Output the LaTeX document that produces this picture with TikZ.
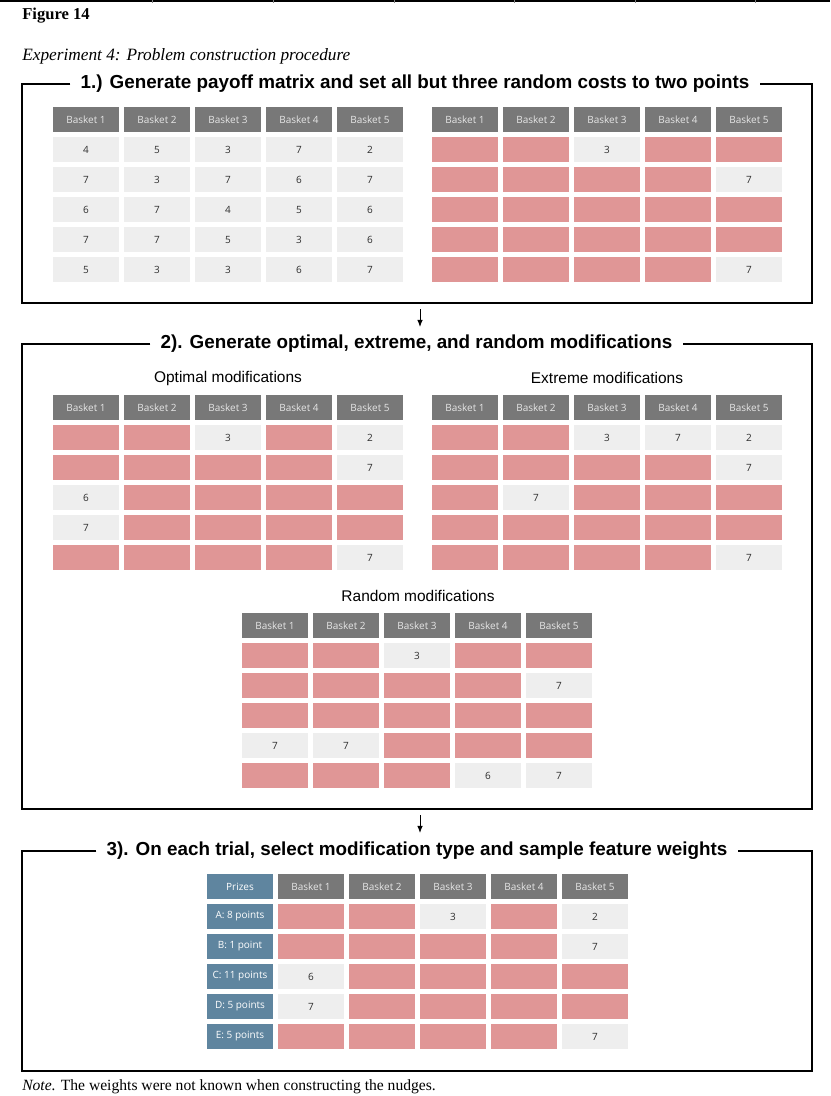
\documentclass[tikz,border=0pt]{standalone}
\usepackage{fontspec}
\setmainfont{Liberation Serif}
\setsansfont{Liberation Sans}
\newfontfamily\cellfont{Open Sans}
\usetikzlibrary{arrows.meta,positioning,calc}
\definecolor{hdrgray}{HTML}{787878}
\definecolor{hdrtext}{HTML}{E6E6E6}
\definecolor{cellgray}{HTML}{EEEEEE}
\definecolor{cellpink}{HTML}{E09696}
\definecolor{prizeblue}{HTML}{5F859F}
\definecolor{numink}{HTML}{2E2E2E}

\begin{document}
\begin{tikzpicture}[x=0.025cm, y=-0.025cm,
  cell/.style={minimum width=1.65cm, minimum height=0.61cm, inner sep=0pt, outer sep=0pt,
               font=\cellfont\fontsize{7.1}{8}\selectfont},
  hd/.style={cell, fill=hdrgray, text=hdrtext},
  gy/.style={cell, fill=cellgray, text=numink},
  pk/.style={cell, fill=cellpink},
  pz/.style={cell, fill=prizeblue, text=white},
  steptitle/.style={font=\sffamily\bfseries\fontsize{13.4}{16}\selectfont, inner xsep=0.25cm, inner ysep=0pt},
  sublab/.style={font=\sffamily\fontsize{11}{13}\selectfont, inner sep=0pt},
  frame/.style={draw=black, line width=0.9pt},
  arr/.style={-{Latex[length=1.8mm,width=1.4mm]}, line width=0.6pt}]
\useasboundingbox (0,0) rectangle (830,1096);
% ---------------- top rule, caption
\draw[line width=1.2pt] (0,1) -- (830,1);
\foreach \x in {152,273,394,514,635,755} {\draw[gray, line width=0.3pt] (\x,0) -- (\x,3);}
\node[anchor=base west, inner sep=0pt, font=\bfseries\fontsize{11.8}{14}\selectfont] (fig) at (22,20) {Figure 14};
\node[anchor=base west, inner sep=0pt, font=\itshape\fontsize{12.3}{14}\selectfont] (cap) at (22,61)
  {Experiment 4: Problem construction procedure};
% ---------------- step 1
\node[steptitle] (s1) at (415,84) {1.) Generate payoff matrix and set all but three random costs to two points};
\draw[frame] (s1.west) -- (22,84) -- (22,303) -- (812,303) -- (812,84) -- (s1.east);
\foreach \c in {1,...,5} {\node[hd] (pa-h\c) at (15+71*\c,119.5) {Basket \c};}
\foreach \row [count=\r] in {{gy/4,gy/5,gy/3,gy/7,gy/2},{gy/7,gy/3,gy/7,gy/6,gy/7},{gy/6,gy/7,gy/4,gy/5,gy/6},
                            {gy/7,gy/7,gy/5,gy/3,gy/6},{gy/5,gy/3,gy/3,gy/6,gy/7}}
  {\foreach \s/\t [count=\c] in \row {\node[\s] (pa-\r-\c) at (15+71*\c,119.5+30*\r) {\t};}}
\foreach \c in {1,...,5} {\node[hd] (pb-h\c) at (394+71*\c,119.5) {Basket \c};}
\foreach \row [count=\r] in {{pk/{},pk/{},gy/3,pk/{},pk/{}},{pk/{},pk/{},pk/{},pk/{},gy/7},{pk/{},pk/{},pk/{},pk/{},pk/{}},
                            {pk/{},pk/{},pk/{},pk/{},pk/{}},{pk/{},pk/{},pk/{},pk/{},gy/7}}
  {\foreach \s/\t [count=\c] in \row {\node[\s] (pb-\r-\c) at (394+71*\c,119.5+30*\r) {\t};}}
\coordinate (a1s) at (420,309);
\coordinate (a1e) at (420,327);
\draw[arr] (a1s) -- (a1e);
% ---------------- step 2
\node[steptitle] (s2) at (416.5,344) {2). Generate optimal, extreme, and random modifications};
\draw[frame] (s2.west) -- (22,344) -- (22,809) -- (812,809) -- (812,344) -- (s2.east);
\node[sublab] (optlab) at (228,378) {Optimal modifications};
\node[sublab] (extlab) at (607,378) {Extreme modifications};
\node[sublab] (rndlab) at (418,596) {Random modifications};
\foreach \c in {1,...,5} {\node[hd] (op-h\c) at (15+71*\c,407.5) {Basket \c};}
\foreach \row [count=\r] in {{pk/{},pk/{},gy/3,pk/{},gy/2},{pk/{},pk/{},pk/{},pk/{},gy/7},{gy/6,pk/{},pk/{},pk/{},pk/{}},
                            {gy/7,pk/{},pk/{},pk/{},pk/{}},{pk/{},pk/{},pk/{},pk/{},gy/7}}
  {\foreach \s/\t [count=\c] in \row {\node[\s] (op-\r-\c) at (15+71*\c,407.5+30*\r) {\t};}}
\foreach \c in {1,...,5} {\node[hd] (ex-h\c) at (394+71*\c,407.5) {Basket \c};}
\foreach \row [count=\r] in {{pk/{},pk/{},gy/3,gy/7,gy/2},{pk/{},pk/{},pk/{},pk/{},gy/7},{pk/{},gy/7,pk/{},pk/{},pk/{}},
                            {pk/{},pk/{},pk/{},pk/{},pk/{}},{pk/{},pk/{},pk/{},pk/{},gy/7}}
  {\foreach \s/\t [count=\c] in \row {\node[\s] (ex-\r-\c) at (394+71*\c,407.5+30*\r) {\t};}}
\foreach \c in {1,...,5} {\node[hd] (rn-h\c) at (204+71*\c,625.5) {Basket \c};}
\foreach \row [count=\r] in {{pk/{},pk/{},gy/3,pk/{},pk/{}},{pk/{},pk/{},pk/{},pk/{},gy/7},{pk/{},pk/{},pk/{},pk/{},pk/{}},
                            {gy/7,gy/7,pk/{},pk/{},pk/{}},{pk/{},pk/{},pk/{},gy/6,gy/7}}
  {\foreach \s/\t [count=\c] in \row {\node[\s] (rn-\r-\c) at (204+71*\c,625.5+30*\r) {\t};}}
\coordinate (a2s) at (420,815);
\coordinate (a2e) at (420,833);
\draw[arr] (a2s) -- (a2e);
% ---------------- step 3
\node[steptitle] (s3) at (417,851) {3). On each trial, select modification type and sample feature weights};
\draw[frame] (s3.west) -- (22,851) -- (22,1071) -- (812,1071) -- (812,851) -- (s3.east);
\node[pz] (tr-h0) at (240,886.5) {Prizes};
\foreach \c in {1,...,5} {\node[hd] (tr-h\c) at (240+71*\c,886.5) {Basket \c};}
\foreach \p [count=\r] in {A: 8 points,B: 1 point,C: 11 points,D: 5 points,E: 5 points}
  {\node[pz] (tr-\r-0) at (240,886.5+30*\r) {\p};}
\foreach \row [count=\r] in {{pk/{},pk/{},gy/3,pk/{},gy/2},{pk/{},pk/{},pk/{},pk/{},gy/7},{gy/6,pk/{},pk/{},pk/{},pk/{}},
                            {gy/7,pk/{},pk/{},pk/{},pk/{}},{pk/{},pk/{},pk/{},pk/{},gy/7}}
  {\foreach \s/\t [count=\c] in \row {\node[\s] (tr-\r-\c) at (240+71*\c,886.5+30*\r) {\t};}}
% ---------------- note
\node[anchor=base west, inner sep=0pt, font=\fontsize{11.1}{13}\selectfont] (note) at (22,1090)
  {\textit{Note.} The weights were not known when constructing the nudges.};
\end{tikzpicture}
\end{document}
